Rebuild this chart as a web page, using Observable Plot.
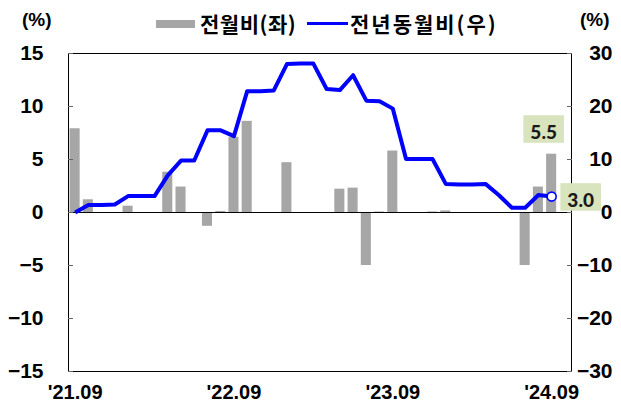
<!DOCTYPE html>
<html>
<head>
<meta charset="utf-8">
<script src="https://cdn.jsdelivr.net/npm/d3@7"></script>
<script src="https://cdn.jsdelivr.net/npm/@observablehq/plot@0.6"></script>
<style>
  html, body { margin: 0; padding: 0; background: #fff; }
  #wrap { position: relative; width: 621px; height: 402px; overflow: hidden; }
  #wrap svg { position: absolute; left: 0; top: 0; }
  .unit { position: absolute; font-family: "Liberation Sans", Arial, sans-serif; font-weight: bold; font-size: 19px; line-height: 19px; color: #000; }
  .lg { position: absolute; font-family: "Noto Sans CJK KR", sans-serif; font-weight: 700; font-size: 21px; line-height: 21px; color: #000; white-space: nowrap; }
</style>
</head>
<body>
<div id="wrap">
  <div class="unit" style="left:22px; top:10px;">(%)</div>
  <div class="unit" style="left:580px; top:10px;">(%)</div>
  <div style="position:absolute; left:156px; top:20px; width:39px; height:8px; background:#a6a6a6;"></div>
  <div class="lg" id="lg1" style="left:200px; top:13px; letter-spacing:0.5px;">전월비(좌)</div>
  <div style="position:absolute; left:307px; top:22px; width:41px; height:3px; background:#0000ff;"></div>
  <div class="lg" id="lg2" style="left:350px; top:13px; letter-spacing:2px;">전년동월비(우)</div>
</div>
<script>
// ---- data ----
const monthLabels = ["'21.09","'21.10","'21.11","'21.12","'22.01","'22.02","'22.03","'22.04","'22.05","'22.06","'22.07","'22.08",
  "'22.09","'22.10","'22.11","'22.12","'23.01","'23.02","'23.03","'23.04","'23.05","'23.06","'23.07","'23.08",
  "'23.09","'23.10","'23.11","'23.12","'24.01","'24.02","'24.03","'24.04","'24.05","'24.06","'24.07","'24.08","'24.09"];
// 전월비 (left axis, %)
const momValues = [7.9, 1.2, 0, 0, 0.6, 0, 0, 3.8, 2.4, 0, -1.3, 0.1,
  7.1, 8.6, 0, 0, 4.7, 0, 0, 0, 2.2, 2.3, -5.0, 0.05,
  5.8, 0, 0, 0.05, 0.15, 0, 0, 0, 0, 0, -5.0, 2.4, 5.5];
// 전년동월비 (right axis, %)
const yoyValues = [0.0, 1.4, 1.4, 1.5, 3.1, 3.1, 3.1, 7.0, 9.8, 9.8, 15.5, 15.5,
  14.4, 22.9, 22.9, 23.0, 28.0, 28.1, 28.1, 23.3, 23.1, 25.9, 21.1, 21.0,
  19.6, 10.1, 10.1, 10.1, 5.4, 5.3, 5.3, 5.4, 3.3, 0.9, 0.9, 3.3, 3.0];
const xTickMonths = ["'21.09", "'22.09", "'23.09", "'24.09"];
const leftTicks = [-15, -10, -5, 0, 5, 10, 15];
const rightTicks = [-30, -20, -10, 0, 10, 20, 30];
const labelMom = "5.5";
const labelYoy = "3.0";

// ---- build ----
const data = monthLabels.map((m, i) => ({i, month: m, mom: momValues[i], yoy: yoyValues[i]}));
const last = data[data.length - 1];
const ratio = rightTicks[rightTicks.length - 1] / leftTicks[leftTicks.length - 1];
const fmt = d => d < 0 ? "\u2212" + Math.abs(d) : String(d);
const tickIdx = xTickMonths.map(m => monthLabels.indexOf(m));

const chart = Plot.plot({
  width: 621,
  height: 402,
  marginTop: 53,
  marginBottom: 31,
  marginLeft: 68,
  marginRight: 50,
  style: {fontFamily: "'Liberation Sans', Arial, sans-serif", fontWeight: "bold", fontSize: "20px", color: "#000", background: "transparent", overflow: "visible"},
  x: {type: "linear", domain: [-0.5, monthLabels.length + 0.5]},
  y: {domain: [leftTicks[0], leftTicks[leftTicks.length - 1]]},
  marks: [
    Plot.rectY(data, {x1: d => d.i - 0.38, x2: d => d.i + 0.38, y: "mom", fill: "#a6a6a6"}),
    Plot.ruleY([0], {stroke: "#000", strokeWidth: 1}),
    Plot.frame({stroke: "#000", strokeWidth: 1}),
    Plot.axisY({anchor: "left", ticks: leftTicks, tickFormat: fmt, tickSize: -5, tickPadding: 30, stroke: "#666", fill: "#000", fontSize: 21, label: null}),
    Plot.axisY({anchor: "right", ticks: leftTicks, tickFormat: d => fmt(d * ratio), tickSize: -5, tickPadding: 46, textAnchor: "end", stroke: "#666", fill: "#000", fontSize: 21, label: null}),
    Plot.axisX({ticks: tickIdx, tickFormat: i => monthLabels[i], tickSize: 0, tickPadding: 13, fill: "#000", fontSize: 20, label: null}),
    Plot.line(data, {x: "i", y: d => d.yoy / ratio, stroke: "#0000ff", strokeWidth: 4, strokeLinejoin: "round", strokeLinecap: "butt"}),
    Plot.dot([last], {x: "i", y: d => d.yoy / ratio, r: 4.5, fill: "#fff", stroke: "#0000ff", strokeWidth: 1.6}),
    Plot.text([last], {x: "i", y: "mom", text: () => labelMom, dx: -8, dy: -21, fill: "#1a1a1a", fontFamily: "Lato, sans-serif", fontWeight: "900", fontSize: 19, className: "lbl"}),
    Plot.text([last], {x: "i", y: d => d.yoy / ratio, text: () => labelYoy, dx: 29, dy: 4.5, fill: "#1a1a1a", fontFamily: "Lato, sans-serif", fontWeight: "900", fontSize: 19, className: "lbl"})
  ]
});
const wrap = document.getElementById("wrap");
wrap.insertBefore(chart, wrap.firstChild);

// light-green label boxes behind the value labels
chart.querySelectorAll(".lbl text").forEach(t => {
  const bb = t.getBBox();
  const r = document.createElementNS("http://www.w3.org/2000/svg", "rect");
  r.setAttribute("x", bb.x - 7);
  r.setAttribute("y", bb.y - 5);
  r.setAttribute("width", bb.width + 14);
  r.setAttribute("height", bb.height + 4.5);
  r.setAttribute("fill", "#d7e4bd");
  const tr = t.getAttribute("transform");
  if (tr) r.setAttribute("transform", tr);
  t.parentNode.insertBefore(r, t);
});
</script>
</body>
</html>
